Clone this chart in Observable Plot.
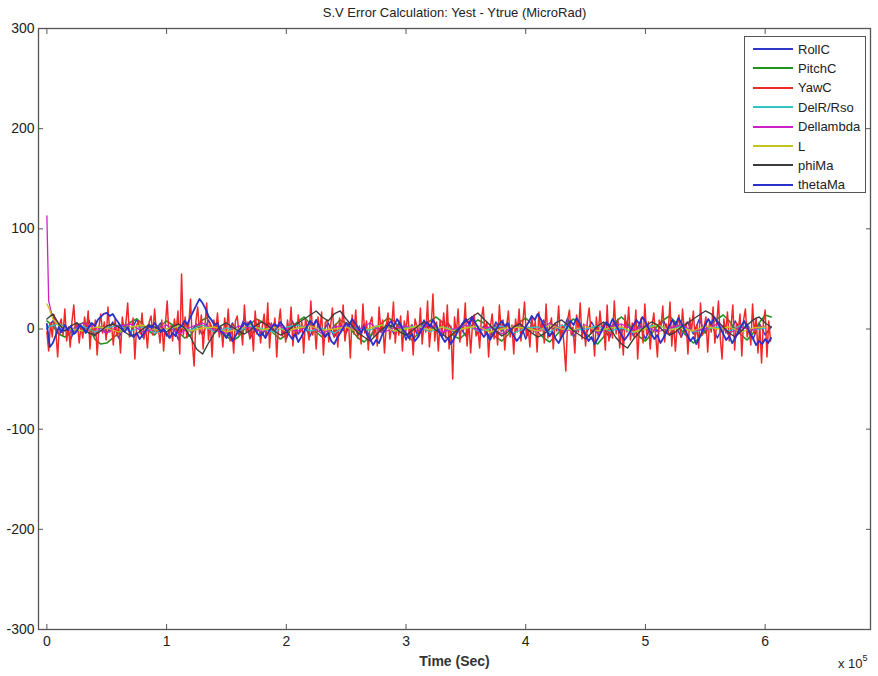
<!DOCTYPE html>
<html>
<head>
<meta charset="utf-8">
<script src="https://cdn.jsdelivr.net/npm/d3@7"></script>
<script src="https://cdn.jsdelivr.net/npm/@observablehq/plot@0.6"></script>
<style>
  html, body { margin: 0; padding: 0; background: #fff; }
  #wrap { position: relative; width: 878px; height: 676px; font-family: "Liberation Sans", Arial, sans-serif; }
  #legend { position: absolute; left: 744px; top: 36px; width: 122px; height: 157px; background: #fff; border: 1px solid #555; box-sizing: border-box; }
  .row { position: absolute; left: 8px; height: 16px; display: flex; align-items: center; font-size: 13px; color: #222; }
  .sw { width: 40px; height: 2px; margin-right: 5px; }
  #xexp { position: absolute; left: 838px; top: 655px; font-size: 13px; color: #222; }
  #xexp sup { font-size: 9px; position: relative; top: -2px; }
</style>
</head>
<body>
<div id="wrap">
  <div id="chart"></div>
  <div id="legend"></div>
  <div id="xexp">x 10<sup>5</sup></div>
</div>
<script>
const seriesNames = ["RollC", "PitchC", "YawC", "DelR/Rso", "Dellambda", "L", "phiMa", "thetaMa"];
const seriesColors = ["#2f36c8", "#1f951f", "#f02828", "#30c4c4", "#cc22c4", "#c4c420", "#3c3c3c", "#2a30c8"];
const seriesWidths = [1.5, 1.6, 1.5, 1.3, 1.3, 1.3, 1.4, 1.8];
const yTicks = [-300, -200, -100, 0, 100, 200, 300];
const xTicks = [0, 100000, 200000, 300000, 400000, 500000, 600000];

// RollC, sampled every 5000 s
const rollC = [0, 8, -6, 4, -10, 6, -3, 9, -7, 2, -5, 7, -9, 3, -4, 10, -8, 5, -2, 6,
 -7, 4, -11, 8, -3, 5, -6, 9, -4, 2, -8, 6, -5, 11, -9, 3, -6, 7, -2, 4,
 -10, 8, -5, 3, -7, 9, -3, 6, -8, 2, -4, 10, -6, 5, -9, 3, -2, 7, -5, 8,
 -11, 4, -6, 9, -3, 5, -8, 6, -4, 2, -7, 10, -5, 3, -9, 7, -2, 4, -6, 8,
 -10, 5, -3, 9, -7, 4, -5, 11, -8, 3, -6, 7, -4, 2, -9, 8, -3, 6, -7, 5,
 -10, 4, -2, 9, -6, 3, -8, 7, -5, 10, -4, 6, -9, 3, -7, 8, -3, 5, -10, 6,
 -6, 2];
// PitchC, every 5000 s
const pitchC = [8, 3, -5, -8, -3, 4, 6, 2, -10, -15, -14, -9, -4, 2, 7, 10, 5, -2, -6, 3,
 8, 4, -3, -9, -6, 2, 9, 12, 6, -1, -7, -12, -8, 0, 5, 10, 7, 1, -5, -10,
 -6, 2, 8, 12, 5, -3, -8, -4, 3, 9, 6, -2, -9, -13, -7, 1, 6, 11, 8, 0,
 -6, -11, -5, 3, 8, 12, 7, -1, -7, -10, -4, 4, 9, 6, -2, -8, -12, -6, 2, 7,
 11, 5, -3, -9, -13, -7, 0, 6, 10, 4, -4, -10, -15, -8, 1, 7, 12, 6, -2, -8,
 -12, -5, 3, 9, 13, 7, -1, -8, -14, -9, -2, 5, 10, 14, 8, 0, -6, -11, -4, 6,
 14, 12];
// YawC, every 1500 s
const yawC = [-3, -22, 6, -8, 14, -2, -28, 4, 10, -6, 20, -12, 2, -18, 8, 24, -4, 6, -14, 3,
 -9, 12, -2, 18, -20, 5, -6, 9, -26, 2, 15, -4, 7, -11, 22, -3, 4, -16, 10, -7,
 3, -24, 12, -2, 6, 26, -8, -3, 11, -30, 4, 8, -5, 16, -10, 2, -19, 7, 13, -6,
 20, -4, 2, -14, 9, -22, 5, 28, -7, 3, -12, 10, -2, 18, -25, 55, -6, 12, -9, 4,
 30, -14, -37, 8, 22, -5, 14, -20, 3, 26, -11, 6, -28, 9, -3, 16, -8, 2, -18, 11,
 -4, 20, -12, 5, -24, 8, 13, -6, 2, -16, 24, -3, 7, -10, 4, -22, 18, -5, 9, -14,
 3, 15, -8, 26, -19, 6, -2, 11, -28, 4, 20, -7, 2, -13, 9, -4, 22, -17, 5, -9,
 14, -3, 7, -24, 10, 2, -11, 28, -6, 4, -20, 12, -2, 17, -26, 6, 9, -13, 3, 21,
 -8, 5, -18, 11, -3, 24, -12, 2, 7, -29, 14, -5, 19, -9, 3, -15, 25, -4, 8, -21,
 6, 12, -7, 2, -17, 22, -3, 9, -24, 4, 16, -10, 2, 27, -14, 5, -6, 13, -22, 8,
 -2, 18, -11, 4, -26, 10, 3, -8, 21, -15, 6, -3, 28, -18, 2, 35, -12, 7, -22, 9,
 -4, 16, -9, 24, -20, 3, -50, 12, -6, 20, -13, 5, -2, 26, -17, 8, -24, 4, 14, -7,
 2, -19, 11, 22, -5, 7, -28, 3, 15, -10, 5, -16, 24, -3, 9, -21, 2, 18, -8, 4,
 -25, 10, -3, 20, -12, 6, 27, -7, 2, -18, 13, -4, 8, -23, 17, -2, 5, -14, 25, -9,
 3, 11, -20, 6, -2, 23, -11, 4, -16, -42, 9, 19, -6, 2, -24, 14, -3, 26, -10, 5,
 -17, 8, 21, -4, 2, -27, 12, -7, 18, -2, 6, -21, 24, -12, 3, -9, 28, -5, 10, -19,
 4, -26, 14, -3, 22, -11, 6, -8, 19, -30, 2, 11, -14, 25, -5, 7, -20, 3, 16, -6,
 -28, 9, 2, 23, -13, 5, -4, 27, -17, 8, -22, 3, 14, -8, 20, -3, 6, -25, 11, -2,
 18, -10, 4, -19, 26, -6, 2, 12, -23, 7, -3, 22, -14, 5, 28, -9, -30, 10, -4, 17,
 -12, 3, 24, -21, 6, -2, 15, -27, 9, 20, -8, 2, -16, 25, -5, 11, -24, 4, -34, 7,
 19, -28, 8, -12];
// DelR/Rso, every 10000 s
const delR = [2, 5, -1, 3, -3, 1, 4, -2, 2, -4, 0, 3, -1, 4, -3, 1, -2, 3, 0, -3,
 2, 4, -2, 1, -4, 3, 0, -1, 4, -2, 1, 3, -3, 2, -1, 4, -2, 0, 3, -4,
 1, 2, -3, 4, -1, 0, 3, -2, 1, -4, 2, 4, -1, 3, -3, 0, 2, -2, 4, -1, 1];
// Dellambda: initial transient, then every 10000 s from 10000
const dellambdaHeadT = [0, 1500, 4000, 8000];
const dellambdaHeadV = [113, 28, 15, 8];
const dellambda = [4, -2, 6, 1, -4, 3, 5, -3, 0, 4, -5, 2, 6, -1, -4, 3, 1, -3, 5, 0,
 -2, 4, -5, 2, 3, -1, 6, -4, 1, 3, -2, 5, -3, 0, 4, -1, 2, -5, 3, 1,
 -3, 6, 0, -2, 4, -4, 2, 5, -1, 3, -3, 1, 4, -2, 0, 5, -4, 2, -1, 3];
// L: initial transient, then every 10000 s from 10000
const lHeadT = [0, 2000, 5000];
const lHeadV = [25, 20, 10];
const lVals = [3, 0, -2, 2, 1, -3, 2, 4, -1, 0, 3, -2, 1, 2, -3, 0, 4, -1, 2, -2,
 1, 3, -1, 0, 2, -3, 1, 4, -2, 0, 3, -1, 2, -2, 1, 3, -3, 0, 2, 1,
 -2, 4, 0, -1, 3, -2, 1, 2, -3, 0, 4, -1, 1, -2, 3, 0, 2, -3, 1, 2];
// phiMa, every 5000 s
const phiMa = [10, 15, 5, -2, 3, 6, 1, -4, -6, -2, 3, 5, 2, -3, -7, -5, 0, 4, 2, -1,
 -3, 2, 5, 1, -8, -20, -25, -14, -4, 3, 6, 2, -2, -5, -1, 4, 7, 3, -2, -6,
 -3, 2, 6, 10, 14, 18, 12, 8, 15, 18, 10, 3, -4, -8, -12, -6, 0, 4, 2, -3,
 -6, -2, 3, 7, 4, -1, -5, -9, -4, 2, 8, 12, 16, 10, 4, -2, -7, -3, 2, 5,
 1, -4, -8, -5, 0, 6, 9, 4, -2, -6, -10, -4, 3, 7, 2, -8, -15, -19, -10, -3,
 3, 7, 4, -2, -6, -3, 2, 6, 10, 14, 18, 15, 8, 2, -4, -8, -2, 4, 9, 12,
 6, 2];
// thetaMa, every 2500 s
const thetaMa = [5, -18, -14, -6, 2, -3, 4, -1, 3, -5, -2, 4, 1, -4, 2, 6, 3, 9, 12, 15,
 16, 13, 15, 10, 6, 1, -3, 2, -5, -8, -4, -10, -6, -2, 3, 1, 6, 2, -3, 0,
 -5, -9, -4, -7, 1, 3, 8, 5, 12, 18, 24, 30, 26, 20, 13, 9, 4, 6, -2, -5,
 -9, -4, -12, -7, -2, 2, 6, 3, 8, 2, -3, -7, -4, -9, -3, 1, 5, 2, 7, 3,
 -2, -6, -10, -5, -13, -8, -2, 3, 8, 4, 9, 2, -3, -8, -4, -12, -15, -9, -4, 1,
 6, 3, 10, 6, 1, -4, 2, -6, -10, -16, -11, -14, -6, -1, 4, 8, 3, 10, 5, -1,
 -4, -9, -5, -12, -8, -2, 3, 7, 2, 9, 4, -3, -8, -13, -9, -15, -10, -4, 1, 6,
 10, 5, 12, 7, 2, -3, -8, -4, -11, -6, -1, 4, 8, 3, 6, -2, -7, -12, -8, -3,
 2, 7, 13, 9, 15, 10, 4, -2, -7, -3, -10, -14, -8, -3, 3, 8, 4, 11, 6, -1,
 -6, -12, -8, -15, -10, -4, 2, 7, 3, 10, 5, -1, -6, -11, -7, -2, 4, 9, 5, 12,
 7, 1, -5, -10, -6, -14, -9, -3, 3, 9, 4, 11, 6, 0, -6, -12, -8, -15, -9, -2,
 4, 10, 5, 12, 7, 1, -5, -11, -7, -14, -9, -3, 3, 8, 2, -5, -10, -16, -12, -15,
 -10, -14, -9];

function sampled(name, vals, step, start = 0) {
  return vals.map((v, i) => ({s: name, t: start + i * step, v}));
}
function explicit(name, ts, vs) {
  return ts.map((t, i) => ({s: name, t, v: vs[i]}));
}

const data = [
  ...sampled("RollC", rollC, 5000),
  ...sampled("PitchC", pitchC, 5000),
  ...sampled("YawC", yawC, 1500),
  ...sampled("DelR/Rso", delR, 10000),
  ...explicit("Dellambda", dellambdaHeadT, dellambdaHeadV), ...sampled("Dellambda", dellambda, 10000, 10000),
  ...explicit("L", lHeadT, lHeadV), ...sampled("L", lVals, 10000, 10000),
  ...sampled("phiMa", phiMa, 5000),
  ...sampled("thetaMa", thetaMa, 2500)
];

const font = "Liberation Sans, Arial, sans-serif";
const plot = Plot.plot({
  width: 878,
  height: 676,
  marginLeft: 38,
  marginRight: 8,
  marginTop: 28,
  marginBottom: 47,
  style: {fontFamily: font, fontSize: "14px", color: "#222", background: "#fff"},
  x: {domain: [-7000, 688000]},
  y: {domain: [-300, 300]},
  marks: [
    ...seriesNames.map((n, i) => Plot.line(data.filter(d => d.s === n), {x: "t", y: "v", stroke: seriesColors[i], strokeWidth: seriesWidths[i]})),
    Plot.frame({stroke: "#555", strokeWidth: 1.3}),
    Plot.axisX({anchor: "bottom", ticks: xTicks, tickSize: -5, tickPadding: 12, tickFormat: d => String(d / 100000), label: null, stroke: "#555"}),
    Plot.axisX({anchor: "top", ticks: xTicks, tickSize: -5, tickFormat: () => "", label: null, stroke: "#555"}),
    Plot.axisY({anchor: "left", ticks: yTicks, tickSize: -5, tickPadding: 9, tickFormat: d => String(d), label: null, stroke: "#555"}),
    Plot.axisY({anchor: "right", ticks: yTicks, tickSize: -5, tickFormat: () => "", label: null, stroke: "#555"}),
    Plot.text(["S.V Error Calculation: Yest - Ytrue (MicroRad)"], {frameAnchor: "top", dy: -21, fontSize: 13, fill: "#222"}),
    Plot.text(["Time (Sec)"], {frameAnchor: "bottom", dy: 36, fontSize: 14, fontWeight: "bold", fill: "#333"})
  ]
});
document.getElementById("chart").appendChild(plot);

const legend = document.getElementById("legend");
seriesNames.forEach((n, i) => {
  const row = document.createElement("div");
  row.className = "row";
  row.style.top = (4 + i * 19.4) + "px";
  const sw = document.createElement("div");
  sw.className = "sw";
  sw.style.background = seriesColors[i];
  row.appendChild(sw);
  row.appendChild(document.createTextNode(n));
  legend.appendChild(row);
});
</script>
</body>
</html>
